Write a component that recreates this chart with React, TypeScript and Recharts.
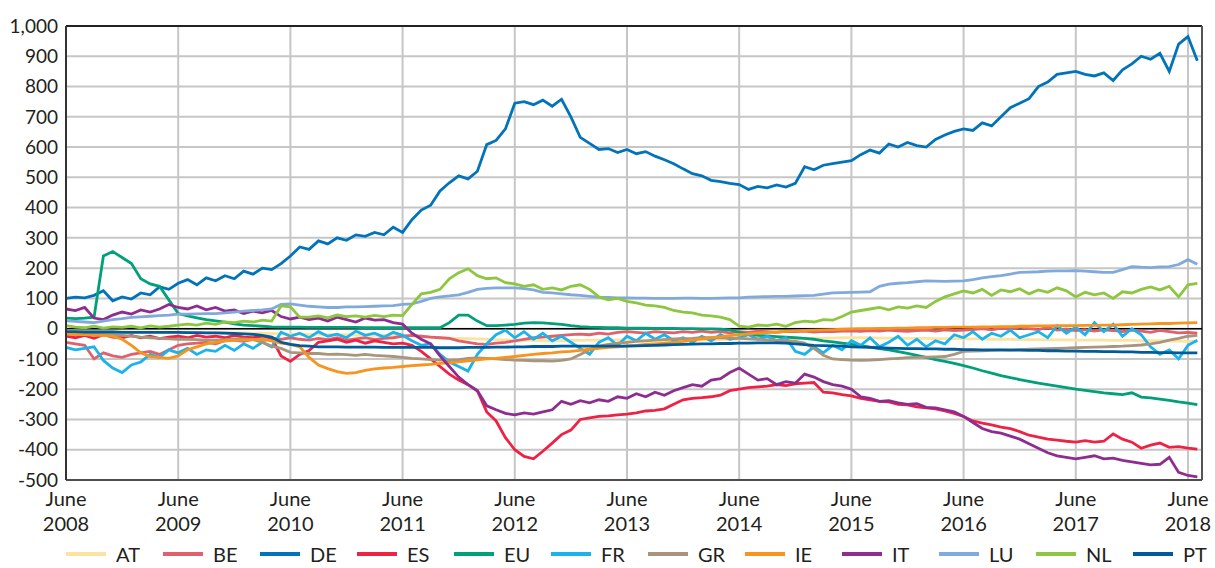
import React from 'react';
import { LineChart, Line, XAxis, YAxis, CartesianGrid, ReferenceLine } from 'recharts';

// Months since June 2008 (0 = June 2008, 120 = June 2018)
const months: number[] = Array.from({ length: 122 }, (_, i) => i);

const xTickMonths = [0, 12, 24, 36, 48, 60, 72, 84, 96, 108, 120];
const xTickYears = ['2008', '2009', '2010', '2011', '2012', '2013', '2014', '2015', '2016', '2017', '2018'];
const yTicks = [-500, -400, -300, -200, -100, 0, 100, 200, 300, 400, 500, 600, 700, 800, 900, 1000];

const AT = [
  -8, -8, -9, -9, -10, -10, -10, -11, -11, -11, -12, -12,
  -12, -12, -13, -13, -13, -14, -14, -14, -15, -15, -16, -17,
  -18, -18, -19, -19, -20, -20, -20, -21, -21, -22, -22, -22,
  -23, -24, -26, -28, -30, -31, -32, -33, -34, -35, -36, -37,
  -38, -38, -39, -40, -40, -40, -39, -39, -38, -38, -37, -37,
  -37, -38, -38, -39, -39, -40, -40, -39, -38, -37, -36, -35,
  -34, -34, -33, -33, -33, -32, -32, -32, -31, -31, -31, -30,
  -30, -30, -30, -31, -31, -31, -32, -32, -32, -33, -33, -33,
  -34, -34, -34, -35, -35, -35, -36, -36, -36, -37, -37, -37,
  -38, -38, -38, -38, -39, -39, -39, -40, -40, -40, -41, -41,
  -42, -42,
];
const BE = [
  -45, -50, -55, -100, -80, -90, -95, -85, -80, -75, -85, -70,
  -55, -50, -48, -45, -50, -40, -38, -42, -35, -40, -32, -35,
  -30, -35, -38, -32, -36, -30, -38, -34, -30, -36, -32, -30,
  -25, -22, -25, -28, -30, -32, -40, -45, -50, -52, -48, -45,
  -40, -35, -30, -28, -25, -22, -20, -18, -20, -15, -18, -12,
  -10, -12, -15, -10, -12, -14, -10, -12, -8, -12, -10, -14,
  -10, -12, -8, -10, -12, -9, -10, -8, -11, -9, -10, -8,
  -7, -9, -6, -8, -5, -7, -9, -6, -5, -8, -4, -6,
  -5, -3, 0, -4, 2, -2, 5, 0, -3, 4, -5, -2,
  -6, -3, -8, -4, -6, -10, -5, -8, -12, -6, -10, -14,
  -12, -15,
];
const DE = [
  100, 104, 102, 110, 125, 92, 105, 98, 118, 112, 138, 130,
  150, 162, 145, 168, 158, 175, 165, 190, 180, 200, 195, 215,
  240, 270, 262, 290, 280, 300, 292, 310, 305, 318, 310, 335,
  318, 360, 392, 408, 455, 482, 505, 495, 520, 608, 622, 660,
  745, 750, 740, 755, 735, 758, 700, 632, 612, 592, 595, 582,
  592, 578, 585, 570, 558, 545, 528, 512, 505, 490, 486, 480,
  476, 460, 470, 465, 475, 468, 480, 535, 525, 540, 545, 550,
  555, 575, 590, 580, 610, 600, 615, 605, 600, 625, 640, 652,
  660, 655, 680, 670, 700, 730, 745, 760, 800, 815, 840, 845,
  850, 840, 835, 845, 820, 855, 875, 900, 890, 910, 850, 940,
  965, 885,
];
const ES = [
  -25, -30, -22, -32, -20, -28, -30, -22, -30, -25, -33, -28,
  -25, -30, -22, -28, -25, -30, -22, -28, -30, -25, -30, -90,
  -108, -85, -72, -45, -40, -35, -45, -38, -48, -40, -45, -50,
  -48, -55, -75, -100, -125, -150, -170, -185, -205, -275, -305, -360,
  -400, -422, -430, -405, -378, -350, -335, -300, -295, -290, -288, -285,
  -282, -278, -272, -270, -265, -250, -235, -230, -228, -225, -220, -205,
  -200, -195, -192, -190, -185, -188, -182, -180, -178, -210, -212, -218,
  -222, -230, -235, -240, -242, -250, -252, -258, -262, -265, -272, -280,
  -290, -305, -312, -318, -325, -330, -340, -352, -358, -365, -368, -372,
  -375, -370, -375, -372, -348, -365, -375, -395, -385, -378, -392, -390,
  -395, -398,
];
const EU = [
  35, 33, 35, 38, 240, 255, 235, 215, 165, 148, 140, 95,
  50, 42, 36, 30, 26, 22, 16, 12, 10, 8, 6, 5,
  5, 5, 4, 4, 4, 4, 4, 4, 3, 3, 3, 3,
  3, 3, 3, 3, 3, 20, 45, 45, 25, 10, 10, 12,
  14, 18, 20, 19, 17, 14, 10, 7, 5, 4, 3, 3,
  2, 2, 2, 1, 1, 1, 0, 0, -1, -1, -2, -4,
  -12, -18, -22, -24, -26, -28, -30, -32, -35, -40, -44, -48,
  -52, -56, -61, -66, -70, -76, -82, -88, -95, -102, -108, -115,
  -122, -130, -139, -147, -155, -162, -168, -174, -180, -185, -190, -195,
  -200, -204, -208, -212, -215, -218, -212, -226, -229, -233, -237, -242,
  -246, -251,
];
const FR = [
  -62, -70, -65, -60, -105, -130, -145, -120, -110, -85, -95, -70,
  -80, -65, -85, -70, -75, -55, -72, -50, -65, -45, -60, -12,
  -25, -15, -30, -10, -25, -18, -30, -8, -22, -15, -28, -12,
  -22, -40, -55, -50, -85, -110, -125, -140, -85, -50, -20, -5,
  -30, -10, -35, -15, -40, -25, -45, -65, -85, -45, -30, -55,
  -25, -40, -15, -35, -20, -40, -30, -45, -25, -40, -20, -35,
  -30, -20, -35, -25, -40, -30, -75, -85, -60, -80, -55, -70,
  -40, -55, -30, -60, -45, -25, -55, -35, -60, -40, -50, -20,
  -30, -10, -35, -15, -25, -5, -30, -20, -10, -30, 10, -15,
  5, -20, 20, -10, 15, -25, 0, -20, -60, -85, -70, -100,
  -55, -38,
];
const GR = [
  -12, -14, -15, -18, -20, -20, -22, -25, -28, -30, -32, -34,
  -35, -35, -36, -38, -38, -36, -34, -34, -36, -45, -58, -65,
  -78, -80, -82, -82, -85, -84, -86, -88, -85, -88, -90, -92,
  -95, -98, -100, -102, -104, -104, -102, -98, -97, -98, -100, -102,
  -104, -105, -106, -106, -107, -105, -100, -85, -70, -58, -52, -48,
  -45, -42, -40, -38, -36, -34, -33, -32, -30, -30, -30, -31,
  -32, -34, -35, -37, -39, -40, -42, -48, -65, -88, -100, -102,
  -104, -105, -104, -102, -100, -98, -96, -95, -94, -93, -92, -85,
  -75, -74, -73, -72, -71, -70, -69, -68, -67, -66, -65, -64,
  -63, -62, -61, -60, -59, -58, -56, -54, -50, -45, -38, -32,
  -25, -22,
];
const IE = [
  -18, -20, -20, -22, -22, -25, -35, -55, -80, -92, -95, -98,
  -90, -70, -60, -50, -45, -40, -38, -38, -36, -35, -40, -48,
  -52, -60, -95, -120, -132, -142, -148, -145, -138, -133, -130, -128,
  -125, -122, -120, -118, -115, -113, -110, -106, -103, -100, -98, -95,
  -92, -88, -85, -82, -80, -77, -75, -72, -68, -65, -62, -60,
  -57, -55, -52, -50, -48, -45, -42, -38, -34, -30, -26, -23,
  -20, -17, -15, -13, -11, -9, -7, -6, -5, -4, -3, -2,
  -1, 0, 0, 1, 1, 2, 2, 3, 3, 4, 4, 5,
  5, 5, 6, 6, 7, 7, 8, 8, 9, 9, 10, 10,
  10, 11, 11, 12, 12, 13, 14, 15, 16, 17, 17, 18,
  19, 20,
];
const IT = [
  65, 60, 70, 35, 30, 45, 55, 48, 62, 55, 65, 80,
  70, 65, 75, 62, 70, 58, 62, 50, 58, 52, 60, 40,
  32, 38, 30, 35, 25, 38, 30, 22, 35, 28, 30, 20,
  15, -15, -35, -50, -90, -125, -160, -185, -205, -255, -268, -280,
  -285, -278, -282, -275, -268, -240, -250, -238, -245, -235, -240, -225,
  -230, -215, -225, -210, -220, -205, -195, -185, -190, -170, -165, -145,
  -130, -150, -170, -165, -185, -175, -180, -150, -160, -175, -185, -190,
  -200, -225, -230, -240, -238, -245, -250, -248, -260, -262, -268, -275,
  -290, -310, -330, -340, -345, -355, -365, -380, -395, -410, -420, -425,
  -430, -425, -420, -430, -428, -435, -440, -445, -450, -448, -425, -475,
  -485, -490,
];
const LU = [
  26, 24, 22, 20, 25, 30, 33, 37, 39, 41, 43, 45,
  48, 48, 49, 50, 50, 52, 55, 58, 60, 62, 65, 80,
  82, 78, 74, 72, 70, 70, 72, 72, 73, 74, 75, 76,
  80, 82, 90, 100, 105, 108, 112, 120, 130, 133, 135, 135,
  135, 132, 128, 120, 118, 115, 112, 110, 107, 104, 103, 102,
  102, 101, 101, 100, 100, 100, 101, 101, 100, 100, 101, 102,
  102, 104, 105, 106, 107, 107, 108, 109, 110, 114, 118, 119,
  120, 121, 122, 140, 147, 150, 152, 155, 158, 157, 156, 157,
  158, 162, 168, 172, 175, 180, 186, 187, 188, 190, 191, 191,
  192, 190, 188, 186, 186, 195, 205, 203, 202, 204, 205, 212,
  228, 213,
];
const NL = [
  10, 5, 3, 8, 2, 6, 4, 8, 3, 9, 5, 8,
  12, 15, 12, 18, 14, 22, 20, 25, 22, 28, 25, 75,
  72, 38, 38, 42, 36, 45, 40, 42, 38, 44, 40, 45,
  43, 80, 115, 120, 130, 165, 185, 198, 175, 165, 168, 152,
  148, 140, 145, 130, 135, 128, 140, 145, 130, 105, 95, 100,
  90, 85, 78, 75, 70, 60, 55, 52, 45, 42, 38, 30,
  8, 5, 12, 10, 15, 8, 20, 25, 22, 30, 28, 40,
  55, 60, 65, 70, 62, 72, 68, 75, 70, 90, 105, 115,
  125, 118, 130, 110, 128, 122, 132, 115, 128, 120, 135, 125,
  105, 120, 112, 118, 100, 122, 118, 130, 138, 128, 140, 105,
  145, 150,
];
const PT = [
  -10, -10, -11, -11, -11, -11, -12, -12, -12, -12, -12, -12,
  -12, -13, -13, -14, -14, -15, -16, -17, -19, -22, -28, -45,
  -52, -56, -58, -60, -60, -60, -61, -61, -61, -61, -62, -62,
  -62, -62, -62, -62, -63, -63, -63, -62, -62, -62, -61, -61,
  -60, -60, -59, -59, -59, -58, -58, -58, -58, -58, -58, -58,
  -58, -57, -56, -55, -54, -53, -52, -51, -50, -50, -49, -49,
  -48, -48, -47, -47, -47, -48, -50, -53, -55, -56, -57, -58,
  -60, -61, -62, -63, -64, -65, -66, -66, -67, -67, -68, -68,
  -69, -69, -70, -70, -70, -71, -71, -72, -72, -73, -73, -74,
  -74, -75, -75, -76, -76, -77, -77, -78, -78, -79, -79, -80,
  -80, -80,
];

const seriesNames = ['AT', 'BE', 'DE', 'ES', 'EU', 'FR', 'GR', 'IE', 'IT', 'LU', 'NL', 'PT'];
const seriesValues: number[][] = [AT, BE, DE, ES, EU, FR, GR, IE, IT, LU, NL, PT];
const seriesColors = [
  '#fde3a0', '#e0616b', '#0073bb', '#ee2245', '#00a07a', '#1ab3ec',
  '#a8957b', '#f7941e', '#8e2d8f', '#80a9dc', '#8dc63f', '#005b9a',
];

const rows = months.map((m, i) => {
  const r: Record<string, number> = { m };
  seriesNames.forEach((n, k) => {
    r[n] = seriesValues[k][i];
  });
  return r;
});

const FONT = 'Lato, "DejaVu Sans", sans-serif';
const TEXT = '#231f20';

const XTick = (props: any) => {
  const { x, y, payload } = props;
  const idx = xTickMonths.indexOf(payload.value);
  return (
    <text x={x} y={y} textAnchor="middle" fill={TEXT} fontSize={20} fontFamily={FONT}>
      <tspan x={x} dy={18}>June</tspan>
      <tspan x={x} dy={25}>{xTickYears[idx]}</tspan>
    </text>
  );
};

export default function App() {
  return (
    <div style={{ position: 'absolute', left: 0, top: 0, width: 1215, height: 568, background: '#fff', fontFamily: FONT }}>
      <LineChart width={1215} height={568} data={rows} margin={{ top: 26, right: 13, bottom: 0, left: 0 }}>
        <CartesianGrid stroke="#c6c6c6" strokeWidth={2} />
        <XAxis
          dataKey="m"
          type="number"
          domain={[0, 121.5]}
          ticks={xTickMonths}
          tick={<XTick />}
          tickLine={false}
          height={88}
          axisLine={{ stroke: '#4d4d4d', strokeWidth: 2 }}
          interval={0}
        />
        <YAxis
          type="number"
          domain={[-500, 1000]}
          ticks={yTicks}
          width={66}
          tickLine={false}
          axisLine={{ stroke: '#333', strokeWidth: 2 }}
          tick={{ fill: TEXT, fontSize: 19, fontFamily: FONT }}
          tickFormatter={(v: number) => v.toLocaleString('en-US')}
          interval={0}
        />
        <ReferenceLine y={1000} stroke="#222" strokeWidth={2} />
        <ReferenceLine x={121.5} stroke="#555" strokeWidth={2} />
        <ReferenceLine y={0} stroke="#000" strokeWidth={1.5} />
        {seriesNames.map((n, k) => (
          <Line
            key={n}
            dataKey={n}
            stroke={seriesColors[k]}
            strokeWidth={2.8}
            dot={false}
            activeDot={false}
            isAnimationActive={false}
            type="linear"
          />
        ))}
      </LineChart>
      <div style={{ position: 'absolute', left: 0, top: 540, width: 1215, height: 28 }}>
        {seriesNames.map((n, k) => (
          <div
            key={n}
            style={{ position: 'absolute', left: 66 + k * 97, top: 0, height: 28, display: 'flex', alignItems: 'center' }}
          >
            <div style={{ width: 40, height: 4, background: seriesColors[k] }} />
            <span style={{ marginLeft: 10, fontSize: 20, color: TEXT, lineHeight: '28px' }}>{n}</span>
          </div>
        ))}
      </div>
    </div>
  );
}
